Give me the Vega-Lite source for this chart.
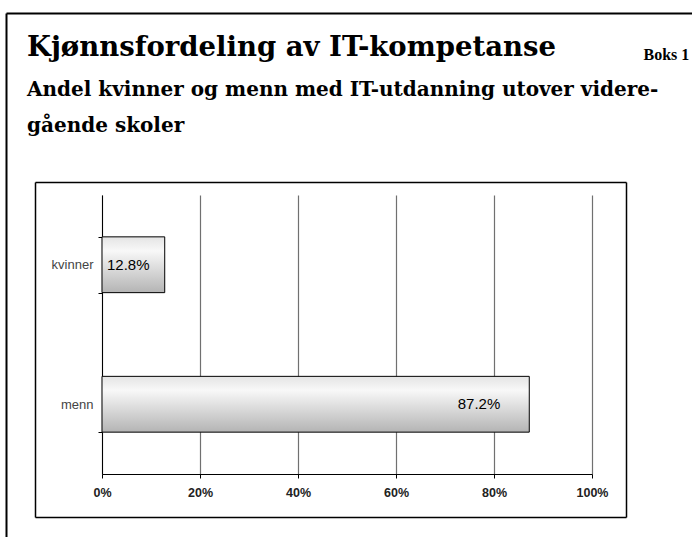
{
  "$schema": "https://vega.github.io/schema/vega-lite/v6.json",
  "width": 490,
  "height": 279,
  "autosize": {"type": "none"},
  "padding": {"left": 102, "top": 195, "right": 100, "bottom": 63},
  "background": "white",
  "config": {"view": {"stroke": null}},
  "title": {
    "text": "Kjønnsfordeling av IT-kompetanse",
    "subtitle": ["Andel kvinner og menn med IT-utdanning utover videre-", "gående skoler"],
    "anchor": "start",
    "frame": "group",
    "offset": -123,
    "dx": -75,
    "font": "DejaVu Serif",
    "fontSize": 27.5,
    "fontWeight": "bold",
    "color": "black",
    "subtitleFont": "DejaVu Serif",
    "subtitleFontSize": 20,
    "subtitleFontWeight": "bold",
    "subtitleColor": "black",
    "subtitleLineHeight": 36,
    "subtitlePadding": 19
  },
  "data": {"values": [
    {"kjonn": "kvinner", "andel": 0.128},
    {"kjonn": "menn", "andel": 0.872}
  ]},
  "layer": [
    {
      "layer": [
        {
          "mark": {
            "type": "bar",
            "stroke": "black",
            "strokeWidth": 1,
            "color": {
              "gradient": "linear",
              "x1": 0, "y1": 0, "x2": 0, "y2": 1,
              "stops": [
                {"offset": 0, "color": "#e4e4e4"},
                {"offset": 0.25, "color": "#f8f8f8"},
                {"offset": 1, "color": "#b4b4b4"}
              ]
            }
          },
          "encoding": {
            "y": {
              "field": "kjonn", "type": "nominal", "sort": ["kvinner", "menn"],
              "scale": {"paddingInner": 0.6, "paddingOuter": 0.3},
              "axis": {
                "title": null, "orient": "left",
                "domainColor": "black", "domainWidth": 1,
                "tickBand": "extent", "tickColor": "black", "tickSize": 4,
                "labelFont": "Liberation Sans", "labelFontSize": 13, "labelColor": "#444",
                "labelPadding": 5, "grid": false
              }
            },
            "x": {
              "field": "andel", "type": "quantitative",
              "scale": {"domain": [0, 1]},
              "axis": {
                "title": null, "orient": "bottom",
                "values": [0, 0.2, 0.4, 0.6, 0.8, 1], "format": ".0%",
                "grid": true, "gridColor": "#707070", "gridWidth": 1.2,
                "domainColor": "black", "domainWidth": 1,
                "tickColor": "black", "tickSize": 4,
                "labelFont": "Liberation Sans", "labelFontSize": 12.5, "labelFontWeight": "bold",
                "labelColor": "#222", "labelPadding": 8, "labelFlush": false
              }
            }
          }
        },
        {
          "transform": [{"filter": "datum.kjonn == 'kvinner'"}],
          "mark": {"type": "text", "align": "left", "baseline": "middle", "dx": 5, "font": "Liberation Sans", "fontSize": 15, "color": "black"},
          "encoding": {
            "y": {"field": "kjonn", "type": "nominal", "sort": ["kvinner", "menn"]},
            "x": {"datum": 0, "type": "quantitative"},
            "text": {"field": "andel", "type": "quantitative", "format": ".1%"}
          }
        },
        {
          "transform": [{"filter": "datum.kjonn == 'menn'"}],
          "mark": {"type": "text", "align": "right", "baseline": "middle", "dx": -29, "font": "Liberation Sans", "fontSize": 15, "color": "black"},
          "encoding": {
            "y": {"field": "kjonn", "type": "nominal", "sort": ["kvinner", "menn"]},
            "x": {"field": "andel", "type": "quantitative"},
            "text": {"field": "andel", "type": "quantitative", "format": ".1%"}
          }
        }
      ]
    },
    {
      "mark": {"type": "point", "opacity": 0},
      "encoding": {
        "x": {
          "field": "andel", "type": "quantitative",
          "scale": {"domain": [0, 1], "range": [-96, 800]},
          "axis": {
            "orient": "top", "offset": 182, "ticks": false, "labels": false, "grid": false,
            "domainColor": "black", "domainWidth": 2,
            "title": "Boks 1", "titleX": 541, "titleY": 46, "titleAlign": "left",
            "titleBaseline": "alphabetic", "titleAngle": 0,
            "titleFont": "Liberation Serif", "titleFontSize": 16, "titleFontWeight": "bold", "titleColor": "black"
          }
        },
        "y": {
          "field": "andel", "type": "quantitative",
          "scale": {"domain": [0, 1], "range": [-182, 400]},
          "axis": {
            "orient": "left", "offset": 96, "ticks": false, "labels": false, "grid": false,
            "domainColor": "black", "domainWidth": 2, "title": null
          }
        }
      }
    },
    {
      "mark": {"type": "point", "opacity": 0},
      "encoding": {
        "x": {
          "field": "andel", "type": "quantitative",
          "scale": {"domain": [0, 1], "range": [-67, 524]},
          "axis": {
            "orient": "top", "offset": 13, "ticks": false, "labels": false, "grid": false,
            "domainColor": "black", "domainWidth": 1.5, "title": null
          }
        },
        "y": {
          "field": "andel", "type": "quantitative",
          "scale": {"domain": [0, 1], "range": [-13, 322]},
          "axis": {
            "orient": "left", "offset": 67, "ticks": false, "labels": false, "grid": false,
            "domainColor": "black", "domainWidth": 1.5, "title": null
          }
        }
      }
    },
    {
      "mark": {"type": "point", "opacity": 0},
      "encoding": {
        "x": {
          "field": "andel", "type": "quantitative",
          "scale": {"domain": [0, 1], "range": [-67, 524]},
          "axis": {
            "orient": "bottom", "offset": 43, "ticks": false, "labels": false, "grid": false,
            "domainColor": "black", "domainWidth": 1.5, "title": null
          }
        },
        "y": {
          "field": "andel", "type": "quantitative",
          "scale": {"domain": [0, 1], "range": [-13, 322]},
          "axis": {
            "orient": "right", "offset": 34, "ticks": false, "labels": false, "grid": false,
            "domainColor": "black", "domainWidth": 1.5, "title": null
          }
        }
      }
    }
  ],
  "resolve": {"scale": {"x": "independent", "y": "independent"}, "axis": {"x": "independent", "y": "independent"}}
}
